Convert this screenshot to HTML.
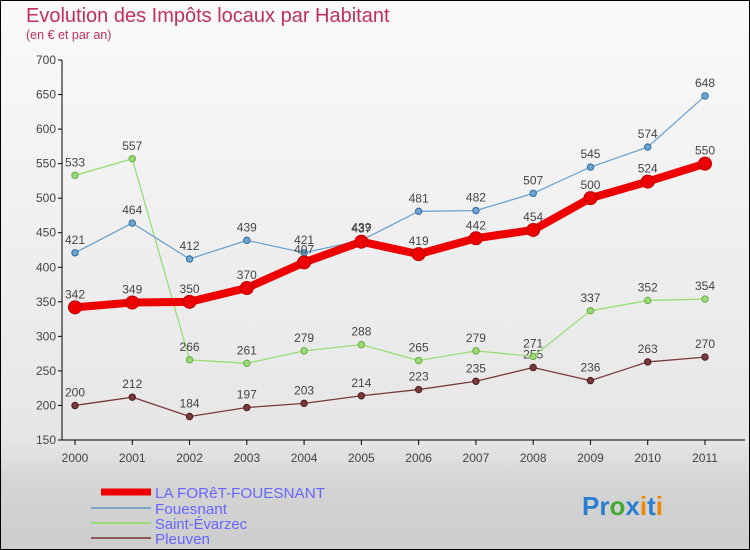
<!DOCTYPE html>
<html><head><meta charset="utf-8"><style>
body{margin:0;}
#wrap{position:relative;width:750px;height:550px;overflow:hidden;font-family:"Liberation Sans",sans-serif;}
svg{position:absolute;left:0;top:0;}
</style></head><body>
<div id="wrap">
<svg id="chart" width="750" height="550" xmlns="http://www.w3.org/2000/svg">
<defs>
<linearGradient id="bg" x1="0" y1="0" x2="0" y2="1">
<stop offset="0" stop-color="#fafafa"/><stop offset="0.8" stop-color="#e6e6e6"/><stop offset="0.88" stop-color="#d4d4d4"/><stop offset="1" stop-color="#cdcdcd"/>
</linearGradient>
</defs>
<rect x="0.5" y="0.5" width="749" height="549" fill="url(#bg)" stroke="#000"/>
<text x="26" y="22" font-size="20" fill="#c0305a">Evolution des Impôts locaux par Habitant</text>
<text x="26" y="39" font-size="12.5" fill="#c0305a">(en € et par an)</text>
<g id="axes"></g>
<g id="series"></g>
<g id="legend">
<line x1="101" y1="492" x2="151" y2="492" stroke="#e00" stroke-width="7"/>
<text x="155" y="498" font-size="15" fill="#6666ff" textLength="170" lengthAdjust="spacingAndGlyphs">LA FORêT-FOUESNANT</text>
<line x1="91" y1="508" x2="151" y2="508" stroke="#7aa6c8" stroke-width="2"/>
<text x="155" y="514" font-size="15" fill="#6666ff" textLength="72" lengthAdjust="spacingAndGlyphs">Fouesnant</text>
<line x1="91" y1="523" x2="151" y2="523" stroke="#99dd77" stroke-width="2"/>
<text x="155" y="529" font-size="15" fill="#6666ff" textLength="92" lengthAdjust="spacingAndGlyphs">Saint-Évarzec</text>
<line x1="91" y1="538" x2="151" y2="538" stroke="#8a5a5a" stroke-width="2"/>
<text x="155" y="544" font-size="15" fill="#6666ff" textLength="55" lengthAdjust="spacingAndGlyphs">Pleuven</text>
</g>
<g font-size="26" font-weight="bold">
<text x="582" y="515"><tspan fill="#2a7fd0">Pr</tspan><tspan fill="#44aa33">o</tspan><tspan fill="#2a7fd0">x</tspan><tspan fill="#ee8800">i</tspan><tspan fill="#2a7fd0">t</tspan><tspan fill="#ee8800">i</tspan></text>
</g>
</svg>
</div>
<script>
const years=["2000","2001","2002","2003","2004","2005","2006","2007","2008","2009","2010","2011"];
const yTicks=[150,200,250,300,350,400,450,500,550,600,650,700];
const laForet=[342,349,350,370,407,437,419,442,454,500,524,550];
const fouesnant=[421,464,412,439,421,439,481,482,507,545,574,648];
const saintEvarzec=[533,557,266,261,279,288,265,279,271,337,352,354];
const pleuven=[200,212,184,197,203,214,223,235,255,236,263,270];
const NS="http://www.w3.org/2000/svg";
function xS(i){return 75+i*(630/11);}
function yS(v){return 440-(v-150)*(380/550);}
function mk(tag,attrs,parent){const e=document.createElementNS(NS,tag);for(const k in attrs)e.setAttribute(k,attrs[k]);parent.appendChild(e);return e;}
const axes=document.getElementById('axes');
const ya=mk('line',{x1:62,y1:60,x2:62,y2:440,stroke:'#000'},axes);


const xa=mk('line',{x1:62,y1:440,x2:745,y2:440,stroke:'#000'},axes);


yTicks.forEach(v=>{
  const y=yS(v);
  mk('line',{x1:58,y1:y,x2:62,y2:y,stroke:'#000'},axes);
  const t=mk('text',{x:56,y:y+4,'font-size':12,fill:'#444','text-anchor':'end'},axes);
  t.textContent=v;
  
  
});
years.forEach((yr,i)=>{
  const x=xS(i);
  mk('line',{x1:x,y1:440,x2:x,y2:445,stroke:'#000'},axes);
  const t=mk('text',{x:x,y:462,'font-size':12,fill:'#444','text-anchor':'middle'},axes);
  t.textContent=yr;
  
  
});
const sg=document.getElementById('series');
function draw(vals,name,color,dark,w,r){
  const g=mk('g',{},sg);
  
  
  const pts=vals.map((v,i)=>xS(i)+','+yS(v)).join(' ');
  mk('polyline',{points:pts,fill:'none',stroke:color,'stroke-width':w,'stroke-linejoin':'round'},g);
  vals.forEach((v,i)=>{
    const c=mk('circle',{cx:xS(i),cy:yS(v),r:r,fill:color,stroke:dark,'stroke-width':1},g);
    
    
    const t=mk('text',{x:xS(i),y:yS(v)-9,'font-size':12,fill:'#444','text-anchor':'middle'},g);
    t.textContent=v;
    
    
  });
}
draw(pleuven,'pleuven','#7a3a3a','#4a1a1a',1.3,3.2);
draw(saintEvarzec,'saint-evarzec','#99dd77','#66aa44',1.3,3.2);
draw(fouesnant,'fouesnant','#6fa3d0','#2a6aa0',1.3,3.2);
draw(laForet,'la-foret-fouesnant','#ee0000','#bb0000',8,6.5);
</script>
</body></html>
